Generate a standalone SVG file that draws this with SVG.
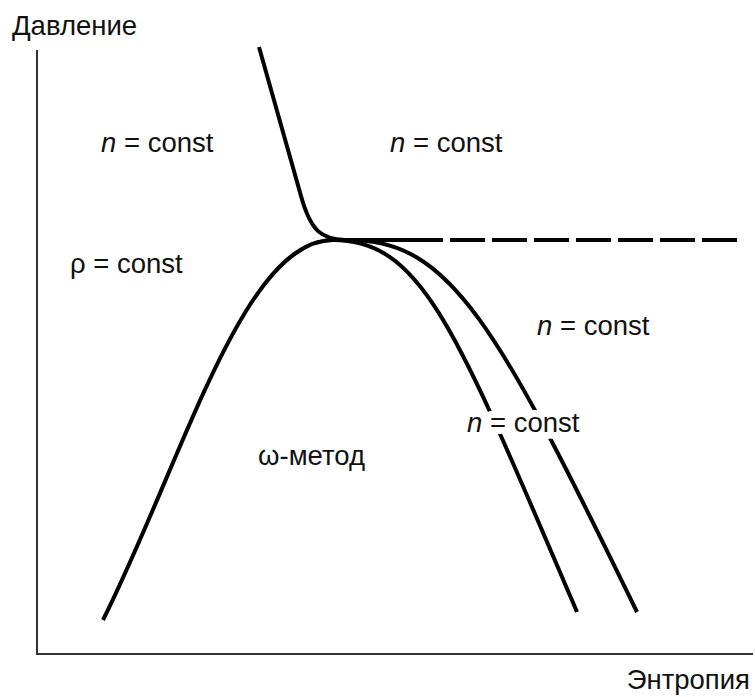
<svg xmlns="http://www.w3.org/2000/svg" width="755" height="697" viewBox="0 0 755 697">
<style>
.t{font-family:"Liberation Sans",Arial,sans-serif;font-size:27.5px;fill:#111}
.c{fill:none;stroke:#000;stroke-width:4;stroke-linecap:butt}
.ax{fill:none;stroke:#333;stroke-width:2}
.halo{stroke:#fff;stroke-width:14;paint-order:stroke;stroke-linejoin:round}
</style>
<rect width="755" height="697" fill="#fff"/>
<g id="axes">
<path class="ax" d="M37,50 V654 H753"/>
<text class="t" x="12" y="35">Давление</text>
<text class="t" x="750" y="689" text-anchor="end">Энтропия</text>
</g>
<g id="connectors">
<path class="c" d="M259,47 L301,196 C311,232 322,239 345,240 L408,240"/>
<path class="c" d="M408,240 H740" stroke-dasharray="35 7"/>
<path class="c" d="M103,620 C183,460 243,240 333,240"/>
<path class="c" d="M333,240 C423,240 457,332 577,612"/>
<path class="c" d="M350,240 C450,240 497,325 637,612"/>
</g>
<g id="labels">
<text class="t" x="101" y="152"><tspan font-style="italic">n</tspan> = const</text>
<text class="t" x="390" y="152"><tspan font-style="italic">n</tspan> = const</text>
<text class="t" x="70" y="273">ρ = const</text>
<text class="t" x="537" y="335"><tspan font-style="italic">n</tspan> = const</text>
<text class="t halo" x="467" y="432"><tspan font-style="italic">n</tspan> = const</text>
<text class="t" x="258" y="465">ω-метод</text>
</g>
</svg>
